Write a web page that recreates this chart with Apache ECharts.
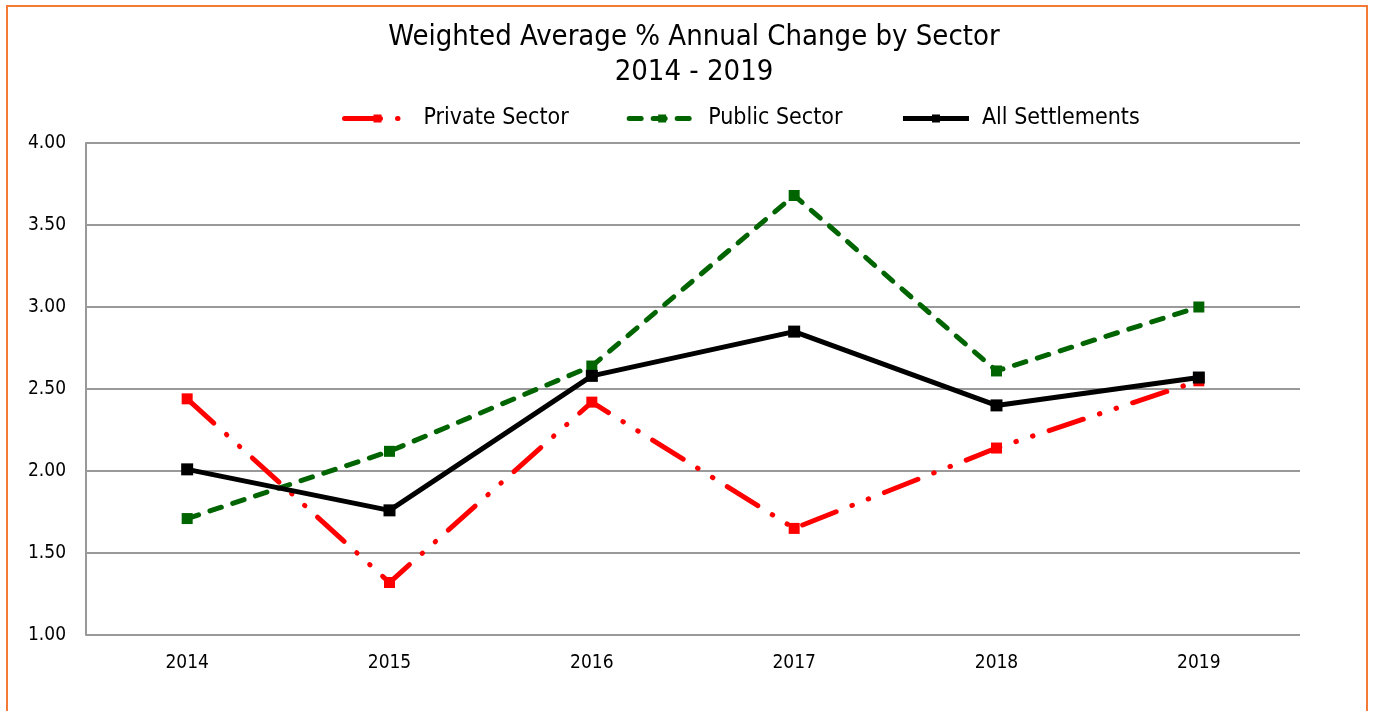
<!DOCTYPE html>
<html>
<head>
<meta charset="utf-8">
<script src="https://cdn.jsdelivr.net/npm/echarts@6/dist/echarts.min.js"></script>
<style>
	html, body { margin: 0; padding: 0; background: #fff; }
	#frame { position: absolute; left: 6px; top: 5px; width: 1362px; height: 720px; border: 2px solid #f47a36; box-sizing: border-box; }
	#main { position: absolute; left: 0; top: 0; width: 1374px; height: 711px; }
</style>
</head>
<body>
<div id="frame"></div>
<div id="main"></div>
<script>
	// 年份
	var years = ['2014', '2015', '2016', '2017', '2018', '2019'];
	// 各部门加权平均变化
	var privateSector = [2.44, 1.32, 2.42, 1.65, 2.14, 2.55];
	var publicSector = [1.71, 2.12, 2.64, 3.68, 2.61, 3.00];
	var allSettlements = [2.01, 1.76, 2.58, 2.85, 2.40, 2.57];

	var font = 'Tahoma, "DejaVu Sans Condensed", "DejaVu Sans", sans-serif';
	var chart = echarts.init(document.getElementById('main'));

	var option = {
		backgroundColor: 'transparent',
		title: {
			text: 'Weighted Average % Annual Change by Sector\n2014 - 2019',
			left: 689,
			textAlign: 'center',
			top: 15,
			textStyle: { fontFamily: font, fontSize: 29, fontWeight: 'normal', color: '#000', lineHeight: 35 }
		},
		legend: {
			top: 102,
			left: 337,
			itemWidth: 66,
			itemHeight: 10,
			itemGap: 58,
			lineStyle: { width: 5 },
			textStyle: { fontFamily: font, fontSize: 23, color: '#000', padding: [0, 0, 0, 8] },
			data: ['Private Sector', 'Public Sector', 'All Settlements']
		},
		grid: { left: 86, right: 74, top: 143, bottom: 76, containLabel: false },
		xAxis: {
			type: 'category',
			data: years,
			boundaryGap: true,
			axisLine: { show: false },
			axisTick: { show: false },
			axisLabel: { fontFamily: font, fontSize: 19, color: '#000', margin: 19 }
		},
		yAxis: {
			type: 'value',
			min: 1,
			max: 4,
			interval: 0.5,
			axisLine: { show: true, lineStyle: { color: '#999', width: 2 } },
			axisTick: { show: false },
			axisLabel: {
				fontFamily: font, fontSize: 19, color: '#000', margin: 20,
				formatter: function (v) { return v.toFixed(2); }
			},
			splitLine: { lineStyle: { color: '#999', width: 2 } }
		},
		series: [
			{
				name: 'Private Sector',
				type: 'line',
				data: privateSector,
				symbol: 'rect',
				symbolSize: 11,
				itemStyle: { color: '#ff0000' },
				lineStyle: { color: '#ff0000', width: 5, type: [36, 17, 0.5, 17, 0.5, 17], cap: 'round' },
				z: 2
			},
			{
				name: 'Public Sector',
				type: 'line',
				data: publicSector,
				symbol: 'rect',
				symbolSize: 11,
				itemStyle: { color: '#006400' },
				lineStyle: { color: '#006400', width: 5, type: [12, 12], cap: 'round' },
				z: 3
			},
			{
				name: 'All Settlements',
				type: 'line',
				data: allSettlements,
				symbol: 'rect',
				symbolSize: 12,
				itemStyle: { color: '#000' },
				lineStyle: { color: '#000', width: 5 },
				z: 4
			}
		]
	};
	chart.setOption(option);
</script>
</body>
</html>
